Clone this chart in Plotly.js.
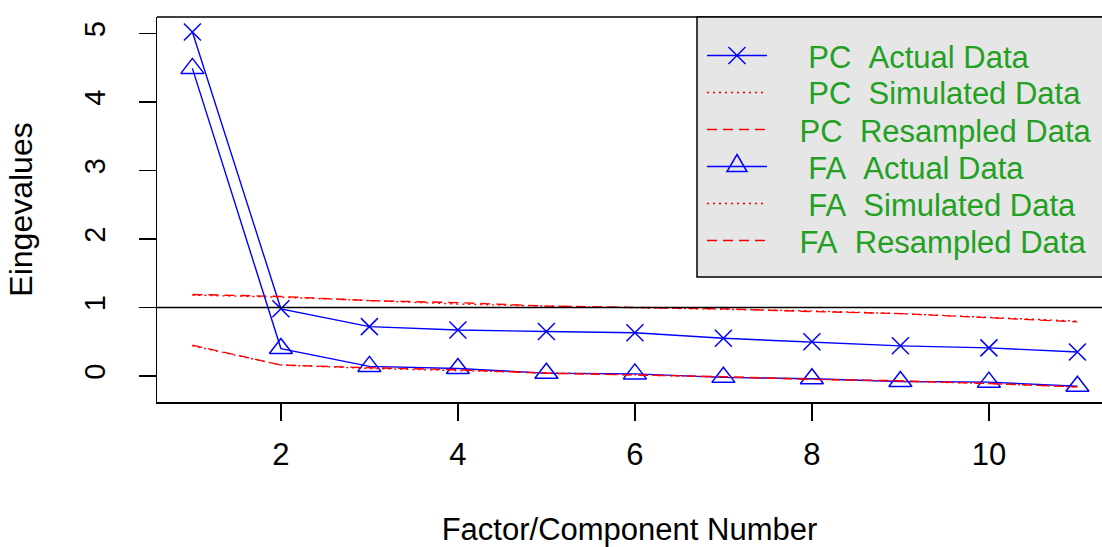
<!DOCTYPE html>
<html>
<head>
<meta charset="utf-8">
<script src="https://cdn.plot.ly/plotly-3.0.1.min.js"></script>
<style>html,body{margin:0;padding:0;background:#fff;}#chart{width:1102px;height:547px;}</style>
</head>
<body>
<div id="chart"></div>
<script>
const factors = [1,2,3,4,5,6,7,8,9,10,11];
const pcActual    = [5.02,0.98,0.72,0.67,0.65,0.63,0.55,0.50,0.44,0.41,0.35];
const pcSimulated = [1.18,1.15,1.10,1.05,1.02,1.00,0.98,0.95,0.91,0.86,0.80];
const pcResampled = [1.19,1.16,1.10,1.07,1.02,1.00,0.98,0.94,0.91,0.85,0.79];
const faActual    = [4.49,0.40,0.14,0.11,0.04,0.03,-0.02,-0.04,-0.08,-0.09,-0.15];
const faSimulated = [0.44,0.16,0.11,0.08,0.04,0.02,-0.01,-0.04,-0.07,-0.11,-0.16];
const faResampled = [0.45,0.16,0.12,0.09,0.04,0.02,-0.01,-0.05,-0.07,-0.11,-0.16];
const legendNames = ["\u00a0\u00a0PC\u00a0\u00a0Actual Data","\u00a0\u00a0PC\u00a0\u00a0Simulated Data","\u00a0PC\u00a0\u00a0Resampled Data",
                     "\u00a0\u00a0FA\u00a0\u00a0Actual Data","\u00a0\u00a0FA\u00a0\u00a0Simulated Data","\u00a0FA\u00a0\u00a0Resampled Data"];
const xTicks = [2,4,6,8,10];
const yTicks = [0,1,2,3,4,5];

const BLUE = '#0000ff', RED = '#ff0000', GREEN = '#22a022';
const DOT = '2px,4px', DASH = '10px,6px';
const styles = [
  {mode:'lines+markers', color:BLUE, dash:'solid', symbol:'x'},
  {mode:'lines', color:RED, dash:DOT},
  {mode:'lines', color:RED, dash:DASH},
  {mode:'lines+markers', color:BLUE, dash:'solid', symbol:'tri'},
  {mode:'lines', color:RED, dash:DOT},
  {mode:'lines', color:RED, dash:DASH}
];
const series = [pcActual, pcSimulated, pcResampled, faActual, faSimulated, faResampled];

const traces = series.map((ys, i) => {
  const s = styles[i];
  const t = {x:factors, y:ys, name:legendNames[i], mode:s.mode, showlegend:false,
    line:{color:s.color, width:1.4, dash:s.dash}};
  if (s.symbol === 'x') t.marker = {symbol:'x-thin-open', size:17, color:BLUE, line:{color:BLUE, width:1.5}};
  if (s.symbol === 'tri') t.marker = {symbol:'triangle-up-open', size:20, color:BLUE, line:{color:BLUE, width:1.5}};
  return t;
});

// plot area geometry in pixels (layout only)
const PL = 157, PT = 17, PW = 945, PH = 385;
const px = x => (x - PL) / PW;
const py = y => (PT + PH - y) / PH;

// hand-drawn legend box (R-style)
const LEG = {x0:697, y0:17, x1:1110, y1:277, symX0:707, symX1:767, textX:789,
             rows:[55.5, 92.5, 129.5, 166.5, 203.5, 240.5]};
const shapes = [
  {type:'line', xref:'paper', yref:'y', x0:0, x1:1, y0:1, y1:1, line:{color:'#000', width:1.5}},
  {type:'line', xref:'paper', yref:'paper', x0:0, x1:1, y0:1, y1:1, line:{color:'#000', width:1.5}},
  {type:'rect', xref:'paper', yref:'paper', x0:px(LEG.x0), x1:px(LEG.x1), y0:py(LEG.y1), y1:py(LEG.y0),
   fillcolor:'#e6e6e6', line:{color:'#000', width:1.5}}
];
const annotations = [];
styles.forEach((s, i) => {
  const r = LEG.rows[i];
  shapes.push({type:'line', xref:'paper', yref:'paper', x0:px(LEG.symX0), x1:px(LEG.symX1), y0:py(r), y1:py(r),
    line:{color:s.color, width:1.4, dash:s.dash}});
  const cx = (LEG.symX0 + LEG.symX1) / 2;
  if (s.symbol === 'x') {
    const a = 8.5;
    shapes.push({type:'path', xref:'paper', yref:'paper',
      path:`M${px(cx-a)},${py(r-a)} L${px(cx+a)},${py(r+a)} M${px(cx-a)},${py(r+a)} L${px(cx+a)},${py(r-a)}`,
      line:{color:BLUE, width:1.5}});
  }
  if (s.symbol === 'tri') {
    shapes.push({type:'path', xref:'paper', yref:'paper',
      path:`M${px(cx)},${py(r-12)} L${px(cx+10)},${py(r+5)} L${px(cx-10)},${py(r+5)} Z`,
      line:{color:BLUE, width:1.5}});
  }
  annotations.push({xref:'paper', yref:'paper', x:px(LEG.textX), y:py(r+1.5), xanchor:'left', yanchor:'middle',
    text:legendNames[i], showarrow:false, font:{family:'Liberation Sans, Arial, sans-serif', size:31, color:GREEN}});
});

const FONT = 'Liberation Sans, Arial, sans-serif';
const layout = {
  width:1102, height:547,
  margin:{l:PL, r:1102-PL-PW, t:PT, b:547-PT-PH},
  paper_bgcolor:'#ffffff', plot_bgcolor:'#ffffff',
  font:{family:FONT, color:'#000', size:26},
  showlegend:false,
  xaxis:{range:[0.6, 0.6 + PW/88.5], tickvals:xTicks, ticktext:xTicks.map(String),
    ticks:'outside', ticklen:17, tickcolor:'#000', tickwidth:1.5, ticklabelstandoff:7,
    showline:true, linecolor:'#000', linewidth:1.5, showgrid:false, zeroline:false,
    tickfont:{size:31, family:FONT},
    title:{text:'Factor/Component Number', font:{size:31, family:FONT}, standoff:48}},
  yaxis:{range:[-0.38, 5.24], tickvals:yTicks, ticktext:yTicks.map(String),
    ticks:'outside', ticklen:17, tickcolor:'#000', tickwidth:1.5, tickangle:-90, ticklabelstandoff:22,
    showline:true, linecolor:'#000', linewidth:1.5, showgrid:false, zeroline:false,
    tickfont:{size:29, family:FONT},
    title:{text:'Eingevalues', font:{size:32, family:FONT}, standoff:36}},
  shapes:shapes,
  annotations:annotations
};
Plotly.newPlot('chart', traces, layout, {displayModeBar:false, staticPlot:true});
</script>
</body>
</html>
